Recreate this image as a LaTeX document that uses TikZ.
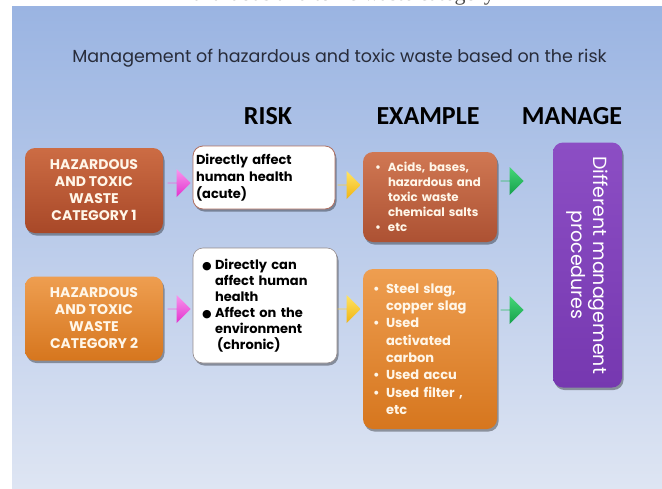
\documentclass[tikz,border=0pt]{standalone}
\usepackage{fontspec}
\usetikzlibrary{shapes.arrows,shadows}
\newfontfamily\gothic{Poppins}
\newfontfamily\hdrfont{Carlito}
\newfontfamily\capser{Liberation Serif}
\newfontfamily\dejavu{DejaVu Sans}
\definecolor{bgtop}{RGB}{154,180,226}
\definecolor{bgbot}{RGB}{222,229,243}
\definecolor{rustA}{RGB}{204,108,68}
\definecolor{rustB}{RGB}{168,72,40}
\definecolor{oranA}{RGB}{238,158,80}
\definecolor{oranB}{RGB}{214,118,30}
\definecolor{purA}{RGB}{140,78,196}
\definecolor{purB}{RGB}{118,56,176}
\definecolor{pinkA}{RGB}{248,150,236}
\definecolor{pinkB}{RGB}{226,50,206}
\definecolor{yelA}{RGB}{255,228,100}
\definecolor{yelB}{RGB}{240,180,20}
\definecolor{grnA}{RGB}{70,215,120}
\definecolor{grnB}{RGB}{20,160,75}
\definecolor{titlecol}{RGB}{40,44,58}
\definecolor{cream}{RGB}{255,246,232}
\definecolor{riskbord}{RGB}{176,112,96}
\definecolor{riskbordb}{RGB}{150,140,140}
\newcommand{\bl}{\makebox[13pt][l]{\textbullet}}
\newcommand{\ind}{\hspace*{13pt}}
\newcommand{\bbl}{\makebox[13pt][l]{{\dejavu\fontsize{11}{11}\selectfont ●}}}
\begin{document}
\begin{tikzpicture}[x=1pt,y=-1pt,
  shad/.style={drop shadow={shadow xshift=1.5pt,shadow yshift=-2.5pt,opacity=0.35,fill=black}},
  catbox/.style={rounded corners=10pt,minimum width=138pt,shad,align=center,text=cream,
    font=\gothic\bfseries\fontsize{14}{17}\selectfont},
  riskbox/.style={rounded corners=10pt,fill=white,shad,align=left,text=black,
    font=\gothic\bfseries\fontsize{13}{17}\selectfont},
  exbox/.style={rounded corners=10pt,minimum width=134pt,text width=114pt,inner xsep=10pt,shad,align=left,text=cream},
  blockarrow/.style={single arrow,minimum height=23pt,minimum width=28pt,single arrow head extend=7pt,inner sep=0pt,draw=none},
  hdr/.style={font=\hdrfont\bfseries\fontsize{26}{26}\selectfont,text=black,anchor=base}
]
\useasboundingbox (0,0) rectangle (662,488);
\begin{scope}
\clip (0,0) rectangle (662,488);
\node[anchor=base,font=\capser\fontsize{22}{22}\selectfont,text=black!70,inner sep=0pt] (caption) at (336,0.5) {Hazardous and toxic waste category};
\end{scope}
\shade[top color=bgtop,bottom color=bgbot] (12,6) rectangle (662,488);

\node[anchor=base,font=\gothic\fontsize{17.5}{17.5}\selectfont,text=titlecol,inner sep=0pt] (title) at (339.5,62) {Management of hazardous and toxic waste based on the risk};

\node[hdr] (hrisk) at (268,124) {RISK};
\node[hdr] (hex) at (428,124) {EXAMPLE};
\node[hdr] (hman) at (572,124) {MANAGE};

\node[catbox,minimum height=85pt,top color=rustA,bottom color=rustB] (cat1) at (94,190.5)
  {HAZARDOUS\\AND TOXIC\\WASTE\\CATEGORY 1};
\node[catbox,minimum height=84pt,top color=oranA,bottom color=oranB] (cat2) at (94,318.5)
  {HAZARDOUS\\AND TOXIC\\WASTE\\CATEGORY 2};

\node[riskbox,draw=riskbord,line width=0.8pt,minimum width=142pt,minimum height=63pt,text width=136pt,inner xsep=3pt] (risk1) at (264,177.5)
  {Directly affect\\human health\\(acute)};
\node[riskbox,draw=riskbordb,line width=0.6pt,minimum width=144pt,minimum height=115pt,text width=126pt,inner xsep=9pt,
  font=\gothic\bfseries\fontsize{13}{16}\selectfont] (risk2) at (265,305.5)
  {\bbl Directly can\\\ind affect human\\\ind health\\\bbl Affect on the\\\ind environment\\\ind\,(chronic)};

\node[exbox,minimum height=90pt,top color=rustA!92!white,bottom color=rustB!95!white,
  font=\gothic\bfseries\fontsize{11.8}{15}\selectfont,inner xsep=12pt,text width=110pt] (ex1) at (430,197)
  {\bl Acids, bases,\\\ind hazardous and\\\ind toxic waste\\\ind chemical salts\\\bl etc};
\node[exbox,minimum height=160pt,top color=oranA,bottom color=oranB,
  font=\gothic\bfseries\fontsize{13}{17.3}\selectfont] (ex2) at (430,349)
  {\bl Steel slag,\\\ind copper slag\\\bl Used\\\ind activated\\\ind carbon\\\bl Used accu\\\bl Used filter ,\\\ind etc};

\node[rotate=-90,rounded corners=10pt,minimum width=245pt,minimum height=69pt,shad,
  top color=purA,bottom color=purB,align=center,text=white,
  font=\gothic\fontsize{19}{22}\selectfont] (manage) at (587.5,265)
  {Different management\\procedures};

\node[blockarrow,top color=pinkA,bottom color=pinkB] (p1) at (179,183) {};
\node[blockarrow,top color=pinkA,bottom color=pinkB] (p2) at (179,309) {};
\node[blockarrow,top color=yelA,bottom color=yelB] (y1) at (349,185) {};
\node[blockarrow,top color=yelA,bottom color=yelB] (y2) at (349,309) {};
\node[blockarrow,top color=grnA,bottom color=grnB] (g1) at (512,181) {};
\node[blockarrow,top color=grnA,bottom color=grnB] (g2) at (512,310) {};
\end{tikzpicture}
\end{document}
